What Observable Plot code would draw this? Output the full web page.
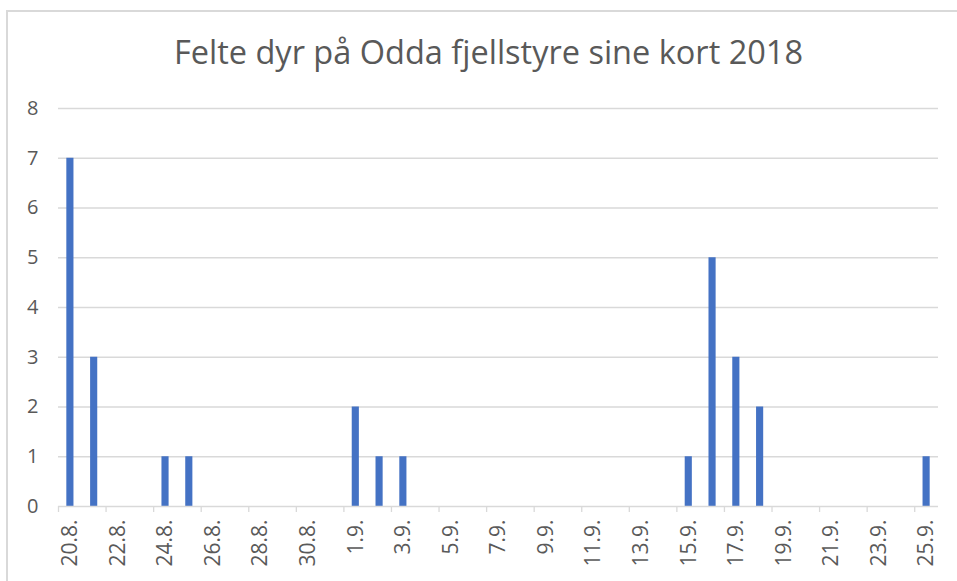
<!DOCTYPE html>
<html>
<head>
<meta charset="utf-8">
<script src="https://cdn.jsdelivr.net/npm/d3@7"></script>
<script src="https://cdn.jsdelivr.net/npm/@observablehq/plot@0.6"></script>
<style>
  html, body { margin: 0; padding: 0; background: #fff; }
  body { width: 957px; height: 581px; overflow: hidden; position: relative; font-family: "Open Sans", sans-serif; }
  #frame { position: absolute; left: 6px; top: 10px; width: 1000px; height: 700px; border-left: 2px solid #d9d9d9; border-top: 2px solid #d9d9d9; box-sizing: border-box; }
  #title { position: absolute; left: 0; top: 0; width: 977px; height: 90px; text-align: center; line-height: 104px; font-size: 32.5px; color: #595959; }
  #chart { position: absolute; left: 0; top: 90px; }
</style>
</head>
<body>
<div id="frame"></div>
<div id="title">Felte dyr på Odda fjellstyre sine kort 2018</div>
<div id="chart"></div>
<script>
const titleText = "Felte dyr på Odda fjellstyre sine kort 2018";
const days = ["20.8.","21.8.","22.8.","23.8.","24.8.","25.8.","26.8.","27.8.","28.8.","29.8.","30.8.","31.8.",
  "1.9.","2.9.","3.9.","4.9.","5.9.","6.9.","7.9.","8.9.","9.9.","10.9.","11.9.","12.9.","13.9.","14.9.",
  "15.9.","16.9.","17.9.","18.9.","19.9.","20.9.","21.9.","22.9.","23.9.","24.9.","25.9."];
const counts = [7,3,0,0,1,1,0,0,0,0,0,0,
  2,1,1,0,0,0,0,0,0,0,0,0,0,0,
  1,5,3,2,0,0,0,0,0,0,1];
const yTicks = [0,1,2,3,4,5,6,7,8];
const labelDays = days.filter((d, i) => i % 2 === 0);

const data = days.map((d, i) => ({day: d, count: counts[i]}));

const W = 957, H = 491, mL = 58, mR = 19, mT = 18, mB = 75;
const step = (W - mL - mR) / days.length;

const chart = Plot.plot({
  width: W, height: H,
  marginLeft: mL, marginRight: mR, marginTop: mT, marginBottom: mB,
  style: {fontFamily: "Open Sans, sans-serif", color: "#595959", background: "transparent"},
  x: {type: "band", domain: days, paddingInner: 0.7, paddingOuter: 0.35, round: false, axis: null, label: null},
  y: {domain: [0, 8], axis: null, label: null},
  marks: [
    Plot.ruleY(yTicks.filter(t => t > 0), {stroke: "#d9d9d9", strokeWidth: 1.3}),
    Plot.barY(data, {x: "day", y: "count", fill: "#4472c4"}),
    Plot.ruleY([0], {stroke: "#d9d9d9", strokeWidth: 1.3}),
    Plot.axisX({ticks: labelDays, tickSize: 6, tickFormat: null, label: null, stroke: "#d9d9d9", strokeWidth: 1.3, strokeOpacity: 1, dx: -step / 2}),
    Plot.axisX({ticks: labelDays, tickSize: 0, tickPadding: 13, tickRotate: -90, label: null, fontSize: 21, fill: "#595959"}),
    Plot.axisY({ticks: yTicks, tickSize: 0, tickPadding: 20, label: null, fontSize: 20, fill: "#595959"})
  ]
});
document.getElementById("chart").appendChild(chart);
</script>
</body>
</html>
